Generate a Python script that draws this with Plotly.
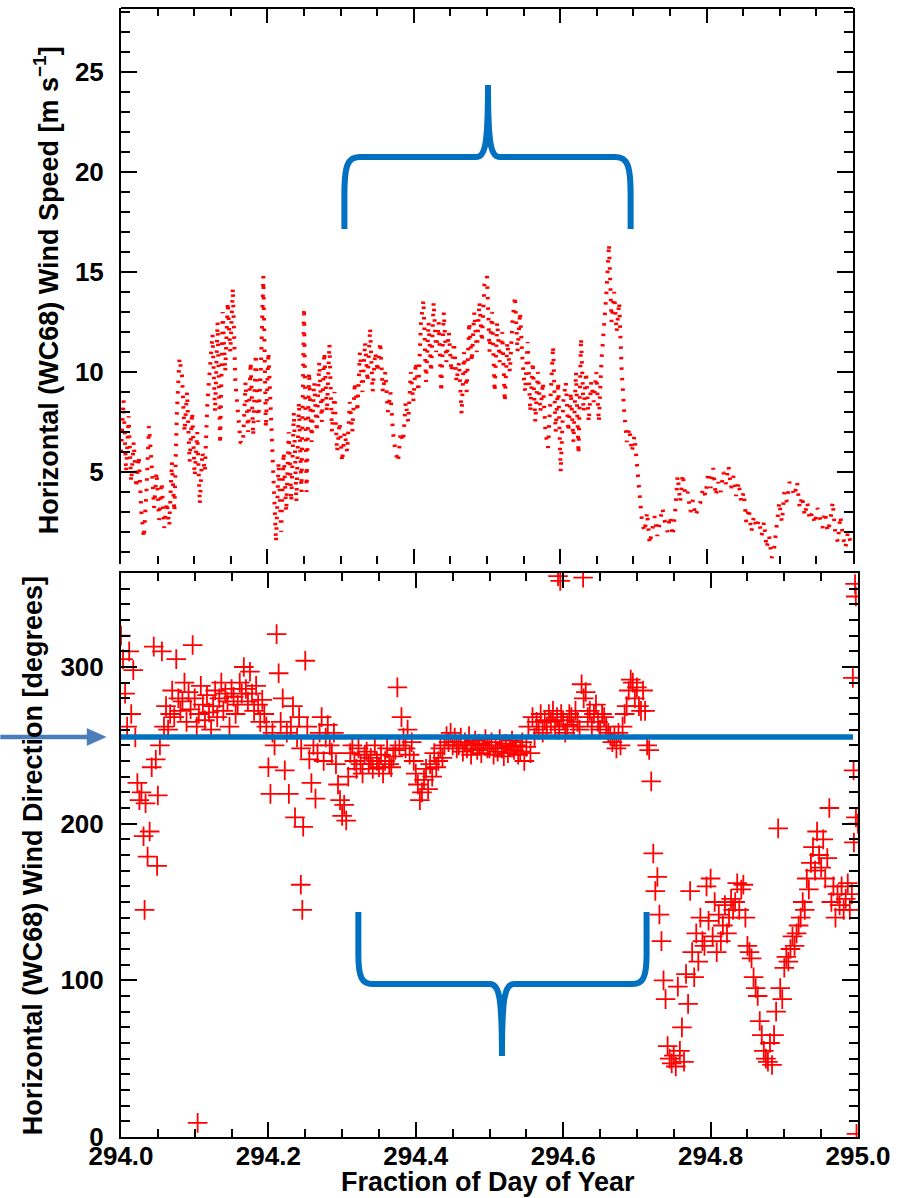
import numpy as np
import plotly.graph_objects as go

# ---------------- data ----------------
DAY_START = 294.0
DAY_END = 295.0

# Horizontal wind speed [m/s], 5-minute samples, 12 per hour
speed_00_06 = [
    6.0, 8.6, 5.0, 7.8, 4.5, 6.5, 4.2, 5.8, 3.0, 1.7, 4.0, 7.3,
    5.5, 3.2, 5.0, 2.6, 4.5, 2.2, 3.5, 2.3, 5.5, 3.0, 8.0, 10.7,
    9.8, 7.0, 9.0, 5.5, 8.0, 4.8, 7.0, 3.4, 6.0, 5.0, 8.5, 10.5,
    11.9, 8.0, 12.5, 6.4, 13.0, 10.0, 13.5, 11.0, 14.2, 9.5, 8.0, 6.5,
    6.4, 9.5, 7.0, 10.5, 6.8, 10.9, 7.5, 10.0, 14.8, 7.2, 11.0, 7.5,
    4.5, 1.5, 5.5, 2.0, 6.0, 3.0, 7.0, 3.5, 8.0, 3.5, 8.5, 4.0]
speed_06_12 = [
    13.2, 4.0, 10.0, 6.5, 9.5, 7.0, 10.5, 7.5, 11.0, 8.0, 11.4, 7.0,
    9.0, 6.0, 7.5, 5.5, 7.0, 6.0, 8.5, 7.0, 9.5, 8.0, 11.0, 9.0,
    11.5, 9.5, 12.2, 9.0, 11.0, 10.0, 11.5, 9.0, 10.0, 8.0, 9.0, 7.0,
    6.0, 5.5, 7.0, 6.5, 8.5, 7.5, 10.0, 8.5, 10.5, 9.0, 12.5, 13.6,
    9.5, 12.5, 10.0, 13.5, 11.0, 12.5, 9.0, 13.0, 10.5, 12.0, 10.0, 11.5,
    9.5, 10.5, 7.9, 11.0, 9.0, 12.5, 10.5, 13.0, 11.0, 13.5, 11.5, 14.4]
speed_12_18 = [
    14.8, 11.0, 13.0, 9.0, 12.5, 10.5, 12.0, 8.5, 11.5, 10.0, 12.5, 13.8,
    11.0, 13.0, 10.5, 9.0, 11.5, 8.0, 10.5, 7.5, 10.0, 8.0, 9.5, 7.0,
    6.2, 9.0, 11.3, 7.0, 9.5, 5.0, 8.5, 9.5, 7.0, 9.0, 6.5, 10.0,
    5.9, 11.7, 8.0, 10.0, 7.5, 9.5, 8.5, 10.0, 7.5, 10.5, 12.0, 14.0,
    16.4, 12.5, 14.0, 12.0, 13.5, 10.0, 8.0, 6.5, 7.2, 6.0, 6.8, 5.5,
    4.0, 2.5, 2.0, 3.0, 1.4, 2.2, 2.8, 1.8, 2.6, 3.2, 2.5, 2.0]
speed_18_24 = [
    2.8, 1.8, 3.0, 4.8, 3.5, 4.9, 3.8, 4.0, 3.0, 3.6, 2.8, 3.2,
    3.5, 4.2, 3.8, 5.0, 4.2, 5.2, 3.8, 4.5, 4.0, 5.0, 4.4, 5.3,
    4.2, 4.8, 3.8, 4.5, 3.5, 4.0, 2.5, 3.2, 2.0, 2.8, 2.2, 2.6,
    1.8, 2.5, 1.2, 1.8, 0.7, 1.2, 2.5, 3.5, 2.5, 4.0, 3.5, 4.5,
    4.2, 3.8, 4.5, 3.2, 3.8, 2.8, 3.5, 2.6, 3.0, 2.4, 3.2, 2.6,
    2.2, 3.0, 2.0, 2.5, 3.5, 2.0, 1.5, 2.8, 1.8, 1.2, 2.0, 1.5, 1.6]

# Horizontal wind direction [degrees], 4-minute samples, 15 per hour
dir_00_06 = [
    320, 305, 283, 262, 310, 270, 298, 255, 226, 215, 220, 192, 213, 179, 195,
    236, 313, 241, 218, 250, 310, 262, 275, 260, 270, 285, 268, 305, 280, 272,
    278, 290, 265, 284, 273, 314, 280, 262, 270, 288, 276, 266, 282, 271, 260,
    275, 285, 268, 280, 290, 272, 283, 278, 262, 286, 281, 270, 276, 290, 283,
    300, 286, 278, 297, 283, 272, 288, 276, 265, 279, 270, 262, 236, 219, 258,
    250, 321, 296, 265, 280, 234, 258, 219, 262, 275, 204, 255, 268, 248, 198]
dir_06_12 = [
    304, 262, 241, 226, 250, 216, 245, 258, 268, 240, 255, 263, 250, 245, 258,
    238, 225, 215, 205, 212, 202, 230, 245, 250, 240, 235, 248, 238, 232, 244,
    246, 238, 242, 235, 250, 240, 236, 244, 232, 240, 248, 238, 236, 243, 247,
    287, 250, 268, 255, 248, 260, 244, 252, 240, 232, 225, 215, 220, 228, 235,
    222, 238, 230, 245, 236, 240, 248, 242, 250, 256, 252, 258, 250, 255, 248,
    250, 255, 246, 252, 248, 256, 244, 250, 253, 247, 251, 245, 250, 254, 248]
dir_12_18 = [
    248, 252, 244, 250, 246, 254, 248, 243, 251, 245, 249, 253, 247, 250, 244,
    246, 252, 240, 249, 262, 245, 268, 255, 265, 260, 270, 258, 266, 262, 270,
    265, 272, 262, 268, 260, 270, 266, 258, 263, 270, 268, 262, 272, 265, 260,
    289, 280, 284, 268, 272, 262, 270, 276, 265, 260, 270, 268, 262, 258, 256,
    252, 255, 248, 258, 250, 262, 270, 275, 285, 292, 290, 280, 287, 275, 272,
    285, 272, 250, 247, 227, 181, 157, 166, 142, 125, 100, 88, 58, 50, 47]
dir_18_24 = [
    52, 45, 96, 55, 70, 48, 104, 85, 157, 118, 102, 130, 112, 140, 125,
    122, 160, 138, 165, 128, 150, 118, 142, 125, 135, 148, 130, 140, 152, 145,
    150, 162, 145, 158, 161, 140, 122, 118, 114, 102, 95, 90, 74, 65, 55,
    50, 48, 60, 46, 65, 80, 197, 95, 88, 108, 115, 112, 120, 128, 122,
    130, 135, 140, 150, 145, 165, 158, 175, 185, 170, 195, 180, 172, 190, 165,
    178, 210, 150, 160, 140, 155, 148, 160, 145, 152, 162, 145, 155, 188, 204, 200]

# isolated direction readings (fraction of day, degrees)
extra_dir_frac = [0.032, 0.049, 0.104, 0.244, 0.246, 0.593, 0.596, 0.627,
                  0.993, 0.994, 0.996, 0.997, 0.998]
extra_dir_deg = [145, 173, 9, 161, 145, 358, 355, 357,
                 293, 234, 353, 345, 2]

REFERENCE_DIRECTION = 255.3   # blue reference line [degrees]

# ---------------- build series ----------------
speed = np.array(speed_00_06 + speed_06_12 + speed_12_18 + speed_18_24)
speed_t = DAY_START + np.arange(len(speed)) / 288.0
direction = np.array(dir_00_06 + dir_06_12 + dir_12_18 + dir_18_24)
dir_t = DAY_START + np.arange(len(direction)) / 360.0
extra_t = DAY_START + np.array(extra_dir_frac)

# ---------------- figure geometry (pixels) ----------------
W, H = 899, 1198
L, R, T, B = 121, 860, 8, 1137
PW, PH = R - L, B - T


def px(x):
    return (x - L) / PW


def py(y):
    return (B - y) / PH


RED = "#FF0000"
BLUE = "#0070C0"
ARROW = "#4A7DBA"
FONT = "Liberation Sans"

fig = go.Figure()

fig.add_trace(go.Scatter(
    x=speed_t, y=speed, mode="lines", xaxis="x", yaxis="y",
    line=dict(color=RED, width=4, dash="2.5px,8px"),
    hoverinfo="skip", showlegend=False))

fig.add_trace(go.Scatter(
    x=np.concatenate([dir_t, extra_t]),
    y=np.concatenate([direction, np.array(extra_dir_deg)]),
    mode="markers", xaxis="x2", yaxis="y2",
    marker=dict(symbol="cross-thin", size=14, color=RED,
                line=dict(color=RED, width=1.8)),
    hoverinfo="skip", showlegend=False))

tickfont = dict(family=FONT, size=26, color="black", weight="bold")

common_x = dict(range=[DAY_START, DAY_END], tick0=DAY_START, dtick=0.2,
                ticks="inside", ticklen=15, tickwidth=2, tickcolor="black",
                minor=dict(dtick=0.05, ticks="inside", ticklen=8,
                           tickwidth=1.5, tickcolor="black"),
                showgrid=False, zeroline=False, linecolor="black",
                linewidth=2)
common_y = dict(ticks="inside", ticklen=16, tickwidth=2, tickcolor="black",
                showgrid=False, zeroline=False, showline=True, mirror="ticks",
                linecolor="black", linewidth=2, tickfont=tickfont,
                ticklabelstandoff=10)

top_right = px(855)
fig.update_layout(
    width=W, height=H,
    margin=dict(l=L, r=W - R, t=T, b=H - B),
    paper_bgcolor="white", plot_bgcolor="white",
    showlegend=False,
    xaxis=dict(domain=[0, top_right], anchor="y", showticklabels=False,
               showline=False, mirror="ticks", **common_x),
    yaxis=dict(domain=[py(564), 1], anchor="x", range=[0.4, 28.2],
               tick0=0, dtick=5,
               minor=dict(dtick=1, ticks="inside", ticklen=9,
                          tickwidth=1.5, tickcolor="black"),
               **common_y),
    xaxis2=dict(domain=[0, 1], anchor="y2", showticklabels=True,
                showline=True, mirror="ticks", tickformat=".1f",
                tickfont=tickfont, ticklabelstandoff=-5, **common_x),
    yaxis2=dict(domain=[0, py(573)], anchor="x2", range=[0, 360],
                tick0=0, dtick=100,
                minor=dict(dtick=10, ticks="inside", ticklen=9,
                           tickwidth=1.5, tickcolor="black"),
                **common_y),
)

# axis titles
title_font = dict(family=FONT, size=27, color="black", weight="bold")
fig.add_annotation(text="Horizontal (WC68) Wind Speed [m s<sup>\u22121</sup>]",
                   x=px(46), y=py(290), xref="paper", yref="paper",
                   textangle=-90, showarrow=False, font=title_font,
                   xanchor="center", yanchor="middle")
fig.add_annotation(text="Horizontal (WC68) Wind Direction [degrees]",
                   x=px(33), y=py(856), xref="paper", yref="paper",
                   textangle=-90, showarrow=False, font=title_font,
                   xanchor="center", yanchor="middle")
fig.add_annotation(text="Fraction of Day of Year",
                   x=px(489), y=py(1182), xref="paper", yref="paper",
                   showarrow=False, font=title_font,
                   xanchor="center", yanchor="middle")

# top border of the upper panel
fig.add_shape(type="line", xref="paper", yref="paper",
              x0=px(L), x1=px(855), y0=py(T), y1=py(T),
              line=dict(color="black", width=2))


def path(points):
    """points: list of ('M'|'L'|'C', [(x,y),...]) in pixel space -> paper path"""
    parts = []
    for cmd, pts in points:
        coords = " ".join(f"{px(x):.5f},{py(y):.5f}" for x, y in pts)
        parts.append(f"{cmd} {coords}")
    return " ".join(parts)


top_brace = [
    ("M", [(345, 229)]), ("L", [(345, 195)]),
    ("C", [(345, 166), (348, 157), (360, 157)]),
    ("L", [(477, 157)]),
    ("C", [(486, 157), (489, 146), (489, 85)]),
    ("C", [(489, 146), (492, 157), (501, 157)]),
    ("L", [(617, 157)]),
    ("C", [(629, 157), (632, 166), (632, 195)]),
    ("L", [(632, 229)]),
]
bottom_brace = [
    ("M", [(359, 912)]), ("L", [(359, 955)]),
    ("C", [(359, 978), (363, 984), (373, 984)]),
    ("L", [(491, 984)]),
    ("C", [(500, 984), (503, 996), (503, 1056)]),
    ("C", [(503, 996), (506, 984), (515, 984)]),
    ("L", [(634, 984)]),
    ("C", [(644, 984), (648, 978), (648, 955)]),
    ("L", [(648, 912)]),
]
for br in (top_brace, bottom_brace):
    fig.add_shape(type="path", xref="paper", yref="paper", path=path(br),
                  line=dict(color=BLUE, width=6))

# reference direction line
fig.add_shape(type="line", xref="x2", yref="y2",
              x0=DAY_START, x1=DAY_START + (855 - L) / PW,
              y0=REFERENCE_DIRECTION, y1=REFERENCE_DIRECTION,
              line=dict(color=BLUE, width=5.5))

# arrow pointing at the reference line
fig.add_shape(type="line", xref="paper", yref="paper",
              x0=px(0), x1=px(90), y0=py(737), y1=py(737),
              line=dict(color=ARROW, width=4.3))
fig.add_shape(type="path", xref="paper", yref="paper",
              path=path([("M", [(87, 728.5)]), ("L", [(106, 737)]),
                         ("L", [(87, 745.5)])]) + " Z",
              fillcolor=ARROW, line=dict(color=ARROW, width=0.5))

fig.write_html("out.html")
